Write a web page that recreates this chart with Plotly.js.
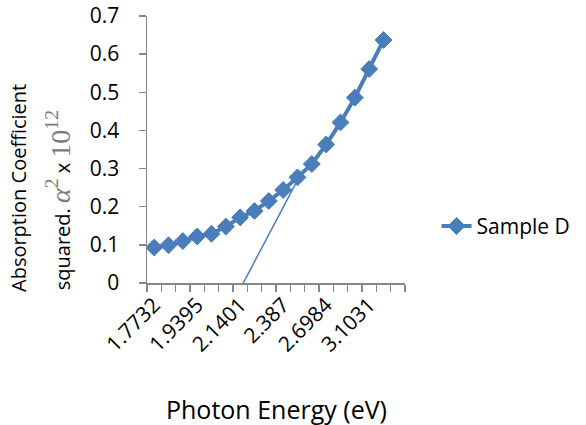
<!DOCTYPE html>
<html>
<head>
<meta charset="utf-8">
<script src="https://cdn.plot.ly/plotly-3.0.1.min.js"></script>
<style>html,body{margin:0;padding:0;background:#fff;}#chart{width:586px;height:425px;}</style>
</head>
<body>
<div id="chart"></div>
<script>
// Photon energy categories (eV)
const energyLabels = ['1.7732','1.8253','1.8807','1.9395','2.002','2.0687','2.1401','2.2165','2.2986','2.387','2.4825','2.5859','2.6984','2.821','2.9553','3.1031','3.2664','3.4479'];
// Sample D: absorption coefficient squared (x 10^12)
const sampleD = [0.093, 0.099, 0.110, 0.122, 0.129, 0.148, 0.172, 0.189, 0.215, 0.244, 0.277, 0.312, 0.363, 0.421, 0.486, 0.561, 0.637];
// Tangent (extrapolation) line, in category-index / value units
const tangentX = [6.05, 10.1];
const tangentY = [-0.012, 0.277];
// Labelled categories (every third)
const labelIdx = [0, 3, 6, 9, 12, 15];

const idx = sampleD.map((_, i) => i);
const blue = '#4a7ebb';
const axisGray = '#868686';
const font = 'Open Sans, sans-serif';
const serif = "font-family:Liberation Serif,serif;font-size:28px;color:#7a7a7a";

const traces = [
  {
    x: idx, y: sampleD, type: 'scatter', mode: 'lines+markers', name: 'Sample D',
    line: {color: blue, width: 4},
    marker: {symbol: 'diamond', size: 13, color: blue, line: {color: blue, width: 1}}
  },
  {
    x: tangentX, y: tangentY, type: 'scatter', mode: 'lines', showlegend: false,
    line: {color: blue, width: 1.5}, hoverinfo: 'skip'
  }
];

const layout = {
  width: 586, height: 425,
  margin: {l: 147, r: 180, t: 16, b: 142},
  paper_bgcolor: '#fff', plot_bgcolor: '#fff',
  font: {family: font, color: '#000'},
  showlegend: true,
  legend: {x: 1.118, y: 0.212, xanchor: 'left', yanchor: 'middle', font: {size: 21, family: font, color: '#000'}, bgcolor: 'rgba(0,0,0,0)'},
  xaxis: {
    range: [-0.5, energyLabels.length - 0.5],
    tickmode: 'array',
    tickvals: labelIdx,
    ticktext: labelIdx.map(i => energyLabels[i]),
    ticks: '', tickangle: -45,
    tickfont: {size: 21, family: font, color: '#000'},
    showline: true, linecolor: axisGray, linewidth: 1.5,
    showgrid: false, zeroline: false,
    minor: {tick0: -0.5, dtick: 1, ticks: 'outside', ticklen: 7, tickcolor: axisGray, tickwidth: 1.5, showgrid: false}
  },
  yaxis: {
    range: [0, 0.7], dtick: 0.1, tick0: 0,
    ticks: 'outside', ticklen: 7, tickcolor: axisGray, tickwidth: 1.5,
    ticklabelstandoff: 15, ticklabeloverflow: 'allow',
    tickfont: {size: 21, family: font, color: '#000'},
    showline: true, linecolor: axisGray, linewidth: 1.5,
    showgrid: false, zeroline: false
  },
  annotations: [
    {xref: 'paper', yref: 'paper', x: 0.5, y: -0.472, xanchor: 'center', yanchor: 'middle',
     text: 'Photon Energy (eV)', showarrow: false, font: {size: 25, family: font, color: '#000'}},
    {xref: 'paper', yref: 'paper', x: -0.498, y: 0.354, xanchor: 'center', yanchor: 'middle', textangle: -90,
     text: 'Absorption Coefficient', showarrow: false, font: {size: 20, family: font, color: '#000'}},
    {xref: 'paper', yref: 'paper', x: -0.34, y: 0.311, xanchor: 'center', yanchor: 'middle', textangle: -90,
     text: "squared. <span style='" + serif + "'><i>α</i><sup>2</sup></span> x <span style='" + serif + "'>10<sup>12</sup></span>",
     showarrow: false, font: {size: 20, family: font, color: '#000'}}
  ]
};

Plotly.newPlot('chart', traces, layout, {staticPlot: true, displayModeBar: false});
</script>
</body>
</html>
